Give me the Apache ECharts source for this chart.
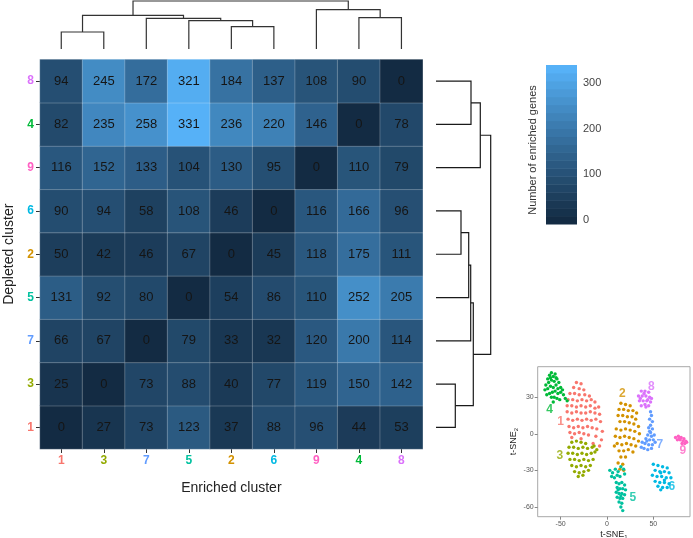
<!DOCTYPE html>
<html><head><meta charset="utf-8">
<script src="https://cdn.jsdelivr.net/npm/echarts@6/dist/echarts.min.js"></script>
<style>html,body{margin:0;padding:0;background:#fff}#c{width:693px;height:538px}</style>
</head><body><div id="c"></div>
<script>
// ---------- data ----------
// cluster order: columns left->right, rows bottom->top
const clusterOrder = ['1','3','7','5','2','6','9','4','8'];
const clusterColors = {'1':'#F8766D','2':'#D39200','3':'#93AA00','4':'#00BA38','5':'#00C19F','6':'#00B9E3','7':'#619CFF','8':'#DB72FB','9':'#FF61C3'};

// enriched genes per depleted cluster (row) vs enriched cluster (columns in clusterOrder)
const depleted8 = [94,245,172,321,184,137,108,90,0];
const depleted4 = [82,235,258,331,236,220,146,0,78];
const depleted9 = [116,152,133,104,130,95,0,110,79];
const depleted6 = [90,94,58,108,46,0,116,166,96];
const depleted2 = [50,42,46,67,0,45,118,175,111];
const depleted5 = [131,92,80,0,54,86,110,252,205];
const depleted7 = [66,67,0,79,33,32,120,200,114];
const depleted3 = [25,0,73,88,40,77,119,150,142];
const depleted1 = [0,27,73,123,37,88,96,44,53];
const rowsByCluster = {'1':depleted1,'3':depleted3,'7':depleted7,'5':depleted5,'2':depleted2,'6':depleted6,'9':depleted9,'4':depleted4,'8':depleted8};

// dendrograms: [childA, childB, height]; 'mN' refers to the N-th merge
const topMerges = [['1','3',17],['2','6',22.3],['5','m1',28.3],['7','m2',30.7],['m0','m3',33.7],['4','8',31.3],['9','m5',39.3],['m4','m6',48]];
const rightMerges = [['8','4',35],['9','m0',44.3],['6','2',25],['5','m2',32.7],['7','m3',34.7],['3','1',19.3],['m4','m5',37.3],['m1','m6',54.7]];

const colorbarTicks = [0,100,200,300];
const tsneXTicks = [-50,0,50];
const tsneYTicks = [-60,-30,0,30];

// t-SNE embedding (approximate positions)
const tsne4 = [[-64,45],[-62,48],[-60,50],[-58,47],[-56,49],[-66,40],[-63,42],[-60,44],[-57,43],[-54,45],[-52,42],[-67,36],[-64,37],[-61,39],[-58,38],[-55,40],[-53,37],[-50,38],[-62,33],[-59,34],[-56,35],[-53,33],[-50,34],[-47,32],[-60,30],[-57,30],[-54,29],[-51,28],[-45,29],[-43,27],[-58,26],[-65,32],[-61,46],[-55,46],[-48,36]];
const tsne1 = [[-33,42],[-28,41],[-36,38],[-30,37],[-25,36],[-40,33],[-35,33],[-30,32],[-24,32],[-19,31],[-42,28],[-37,28],[-32,27],[-27,28],[-22,27],[-17,28],[-13,26],[-43,23],[-38,23],[-33,22],[-28,23],[-23,22],[-18,23],[-13,21],[-9,22],[-43,18],[-38,17],[-33,18],[-28,17],[-23,17],[-18,18],[-13,17],[-8,16],[-42,12],[-37,11],[-32,12],[-27,11],[-22,12],[-17,11],[-12,12],[-7,10],[-41,6],[-36,5],[-31,6],[-26,5],[-21,6],[-16,5],[-11,4],[-40,1],[-35,0],[-30,1],[-25,0],[-20,-1],[-12,-2],[-6,-5],[-5,2],[-8,-10],[-15,-8],[-38,-3],[-28,-4]];
const tsne3 = [[-38,-7],[-33,-6],[-28,-7],[-23,-8],[-41,-11],[-36,-11],[-31,-12],[-26,-11],[-21,-12],[-16,-11],[-42,-16],[-37,-16],[-32,-17],[-27,-16],[-22,-17],[-17,-16],[-13,-15],[-40,-21],[-35,-21],[-30,-22],[-25,-21],[-20,-22],[-15,-21],[-38,-26],[-33,-27],[-28,-26],[-23,-27],[-18,-26],[-35,-31],[-30,-32],[-25,-31],[-20,-30],[-31,-35],[-26,-34],[-11,-13],[-14,-10]];
const tsne2 = [[15,25],[20,24],[25,23],[13,20],[18,20],[23,19],[28,19],[32,17],[12,15],[17,15],[22,14],[27,14],[31,12],[14,10],[19,10],[24,9],[29,8],[34,6],[10,4],[15,3],[20,4],[25,3],[30,2],[35,0],[9,-2],[14,-3],[19,-2],[24,-3],[29,-4],[34,-6],[11,-8],[16,-9],[21,-8],[26,-9],[31,-10],[13,-14],[18,-14],[23,-13],[28,-15],[15,-19],[20,-19],[12,-24],[17,-25],[14,-29],[18,-30],[8,-10]];
const tsne8 = [[37,35],[41,35],[45,34],[34,31],[38,31],[42,31],[46,30],[35,27],[39,27],[43,27],[47,26],[37,23],[41,24],[45,23],[48,29],[40,33],[44,28],[36,29],[42,22]];
const tsne7 = [[47,18],[48,15],[46,12],[49,10],[47,7],[45,5],[49,4],[47,1],[44,-1],[48,-2],[51,-1],[42,-4],[46,-5],[50,-5],[38,-7],[41,-8],[45,-9],[49,-9],[37,-11],[40,-12],[44,-13],[48,-12],[52,-7],[43,-6],[46,2]];
const tsne9 = [[74,-3],[77,-2],[80,-3],[83,-4],[76,-5],[79,-5],[82,-6],[85,-6],[81,-8],[84,-8],[78,-4],[86,-7]];
const tsne6 = [[50,-25],[55,-26],[60,-27],[65,-28],[52,-30],[57,-31],[62,-31],[67,-32],[49,-34],[54,-35],[59,-35],[64,-36],[69,-36],[52,-39],[57,-40],[62,-40],[67,-41],[55,-43],[60,-44],[65,-44],[58,-46],[62,-38],[58,-32]];
const tsne5 = [[3,-30],[6,-32],[9,-29],[12,-31],[15,-27],[18,-29],[5,-35],[8,-36],[11,-34],[19,-33],[14,-35],[10,-40],[13,-41],[16,-40],[19,-42],[11,-44],[14,-45],[17,-45],[20,-46],[10,-48],[13,-49],[16,-49],[19,-50],[11,-52],[14,-53],[17,-53],[13,-56],[16,-57],[15,-60],[17,-63],[12,-46],[15,-51]];
const tsneByCluster = {'1':tsne1,'2':tsne2,'3':tsne3,'4':tsne4,'5':tsne5,'6':tsne6,'7':tsne7,'8':tsne8,'9':tsne9};
const tsneLabelPos = {'1':[-50,10],'2':[16.5,33],'3':[-51,-18],'4':[-62,20],'5':[28,-52],'6':[70,-43],'7':[57,-9],'8':[48,39],'9':[82,-14]};

// ---------- build ----------
const heatData = [];
clusterOrder.forEach((r, yi) => {
  rowsByCluster[r].forEach((v, xi) => heatData.push([xi, yi, v]));
});
const allVals = heatData.map(d => d[2]);
const vMin = Math.min(...allVals), vMax = Math.max(...allVals);
const palette = ['#132B43','#234A6C','#336A98','#448DC6','#56B1F7'];

function buildDendro(merges){
  const pos = {};
  clusterOrder.forEach((c,i) => pos[c] = {p: i + 0.5, h: 0});
  const segs = [];
  merges.forEach((m,i) => {
    const a = pos[m[0]], b = pos[m[1]];
    segs.push([a.p, a.h, b.p, b.h, m[2]]);
    pos['m' + i] = {p: (a.p + b.p) / 2, h: m[2]};
  });
  return segs;
}
function dendroRender(horizontal, color){
  return function(params, api){
    const pa = api.value(0), ha = api.value(1), pb = api.value(2), hb = api.value(3), h = api.value(4);
    const pt = horizontal ? (p, hh) => api.coord([p, hh]) : (p, hh) => api.coord([hh, p]);
    return {type:'polyline', shape:{points:[pt(pa,ha), pt(pa,h), pt(pb,h), pt(pb,hb)]},
            style:{stroke: color, lineWidth: 1.2, fill: null}};
  };
}

// colorbar bins (ggplot-style 20 bins)
const nbin = 20;
const binStep = (vMax - vMin) / (nbin - 1);
const cbData = [];
for (let i = 0; i < nbin; i++) {
  const v = vMin + i * binStep;
  cbData.push([0, v - binStep/2, v + binStep/2, v]);
}

const labelColorFn = (v) => clusterColors[v];

const series = [
  {type:'heatmap', xAxisIndex:0, yAxisIndex:0, data: heatData,
   label:{show:true, fontSize:13, color:'#151515'},
   itemStyle:{borderColor:'rgba(255,255,255,0.4)', borderWidth:0.6},
   emphasis:{disabled:true}},
  {type:'custom', xAxisIndex:1, yAxisIndex:1, data: buildDendro(topMerges), clip:false,
   renderItem: dendroRender(true, '#333'), silent:true},
  {type:'custom', xAxisIndex:2, yAxisIndex:2, data: buildDendro(rightMerges), clip:false,
   renderItem: dendroRender(false, '#1a1a1a'), silent:true},
  {type:'custom', xAxisIndex:3, yAxisIndex:3, data: cbData, clip:false, silent:true,
   renderItem: function(params, api){
     const p1 = api.coord([0, api.value(2)]), p2 = api.coord([1, api.value(1)]);
     return {type:'rect', shape:{x:p1[0], y:p1[1], width:p2[0]-p1[0], height:p2[1]-p1[1]+0.5},
             style:{fill: api.visual('color')}};
   }}
];
const clusterNames = ['1','2','3','4','5','6','7','8','9'];
clusterNames.forEach(c => {
  series.push({type:'scatter', xAxisIndex:4, yAxisIndex:4, data: tsneByCluster[c],
    symbolSize:3.4, itemStyle:{color: clusterColors[c], opacity:1}, silent:true});
});
series.push({type:'scatter', xAxisIndex:4, yAxisIndex:4, symbolSize:0, silent:true,
  data: clusterNames.map(c => ({value: tsneLabelPos[c], name: c,
    label:{show:true, position:'inside', formatter: c, color: clusterColors[c], fontSize:12, fontWeight:'bold'}}))});

const chart = echarts.init(document.getElementById('c'), null, {renderer:'canvas'});
const ob = {outerBoundsMode:'none', containLabel:false};
chart.setOption({
  animation:false,
  backgroundColor:'#fff',
  textStyle:{fontFamily:'Liberation Sans, Arial, sans-serif'},
  grid:[
    Object.assign({left:40, top:59.5, width:382.7, height:389.5}, ob),
    Object.assign({left:40, top:1, width:382.7, height:48}, ob),
    Object.assign({left:436, top:59.5, width:54.7, height:389.5}, ob),
    Object.assign({left:546, top:65, width:31, height:159}, ob),
    Object.assign({left:537.7, top:366.7, width:152.3, height:150, show:true, borderColor:'#a8a8a8', borderWidth:1}, ob)
  ],
  xAxis:[
    {type:'category', gridIndex:0, data:clusterOrder, axisLine:{show:false},
     axisTick:{show:true, length:4, lineStyle:{color:'#333'}, alignWithLabel:true},
     axisLabel:{fontSize:12, fontWeight:'bold', color:labelColorFn, margin:6},
     name:'Enriched cluster', nameLocation:'middle', nameGap:32, nameTextStyle:{fontSize:14, color:'#222'}},
    {type:'value', gridIndex:1, min:0, max:9, show:false},
    {type:'value', gridIndex:2, min:0, max:54.7, show:false},
    {type:'value', gridIndex:3, min:0, max:1, show:false},
    {type:'value', gridIndex:4, min:-74.8, max:89.6, splitLine:{show:false}, axisLine:{show:false, onZero:false},
     axisTick:{show:true, length:3, lineStyle:{color:'#888'}, customValues:tsneXTicks},
     axisLabel:{fontSize:7, color:'#555', margin:4, customValues:tsneXTicks},
     name:'t-SNE{s|1}', nameLocation:'middle', nameGap:12,
     nameTextStyle:{fontSize:9, color:'#222', rich:{s:{fontSize:6, verticalAlign:'bottom', padding:[6,0,0,0]}}}}
  ],
  yAxis:[
    {type:'category', gridIndex:0, data:clusterOrder, axisLine:{show:false},
     axisTick:{show:true, length:4, lineStyle:{color:'#333'}, alignWithLabel:true},
     axisLabel:{fontSize:12, fontWeight:'bold', color:labelColorFn, margin:6},
     name:'Depleted cluster', nameLocation:'middle', nameGap:24, nameTextStyle:{fontSize:14, color:'#222'}},
    {type:'value', gridIndex:1, min:0, max:48, show:false},
    {type:'value', gridIndex:2, min:0, max:9, show:false},
    {type:'value', gridIndex:3, min:vMin - binStep/2, max:vMax + binStep/2, position:'right',
     axisLine:{show:false}, axisTick:{show:false}, splitLine:{show:false},
     axisLabel:{fontSize:11, color:'#444', margin:6, customValues:colorbarTicks}},
    {type:'value', gridIndex:4, min:-68, max:55, splitLine:{show:false}, axisLine:{show:false, onZero:false},
     axisTick:{show:true, length:3, lineStyle:{color:'#888'}, customValues:tsneYTicks},
     axisLabel:{fontSize:7, color:'#555', margin:4, customValues:tsneYTicks},
     name:'t-SNE{s|2}', nameLocation:'middle', nameGap:13,
     nameTextStyle:{fontSize:9, color:'#222', rich:{s:{fontSize:6, verticalAlign:'bottom', padding:[6,0,0,0]}}}}
  ],
  visualMap:[
    {type:'continuous', show:false, seriesIndex:0, dimension:2, min:vMin, max:vMax, inRange:{color:palette}},
    {type:'continuous', show:false, seriesIndex:3, dimension:3, min:vMin, max:vMax, inRange:{color:palette}}
  ],
  graphic:[
    {type:'text', x:533, y:150, rotation:Math.PI/2,
     style:{text:'Number of enriched genes', fontSize:11, fill:'#333', align:'center', verticalAlign:'middle',
            fontFamily:'Liberation Sans, Arial, sans-serif'}}
  ],
  series: series
});
</script></body></html>
